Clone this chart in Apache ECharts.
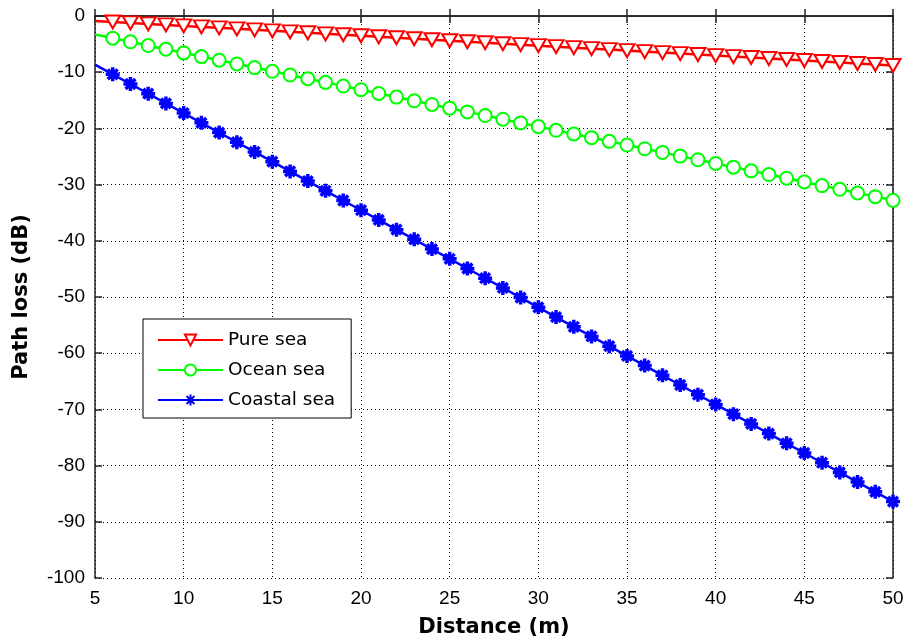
<!DOCTYPE html>
<html>
<head>
<meta charset="utf-8">
<script src="https://cdn.jsdelivr.net/npm/echarts@6/dist/echarts.min.js"></script>
<style>html,body{margin:0;padding:0;background:#fff;}#c{width:909px;height:644px;}</style>
</head>
<body>
<div id="c"></div>
<script>
const distance = [5,6,7,8,9,10,11,12,13,14,15,16,17,18,19,20,21,22,23,24,25,26,27,28,29,30,31,32,33,34,35,36,37,38,39,40,41,42,43,44,45,46,47,48,49,50];
const pureSea = [-0.88,-1.06,-1.23,-1.41,-1.58,-1.76,-1.94,-2.11,-2.29,-2.46,-2.64,-2.82,-2.99,-3.17,-3.34,-3.52,-3.70,-3.87,-4.05,-4.22,-4.40,-4.58,-4.75,-4.93,-5.10,-5.28,-5.46,-5.63,-5.81,-5.98,-6.16,-6.34,-6.51,-6.69,-6.86,-7.04,-7.22,-7.39,-7.57,-7.74,-7.92,-8.10,-8.27,-8.45,-8.62,-8.80];
const oceanSea = [-3.28,-3.94,-4.59,-5.25,-5.90,-6.56,-7.22,-7.87,-8.53,-9.18,-9.84,-10.50,-11.15,-11.81,-12.46,-13.12,-13.78,-14.43,-15.09,-15.74,-16.40,-17.06,-17.71,-18.37,-19.02,-19.68,-20.34,-20.99,-21.65,-22.30,-22.96,-23.62,-24.27,-24.93,-25.58,-26.24,-26.90,-27.55,-28.21,-28.86,-29.52,-30.18,-30.83,-31.49,-32.14,-32.80];
const coastalSea = [-8.64,-10.37,-12.10,-13.82,-15.55,-17.28,-19.01,-20.74,-22.46,-24.19,-25.92,-27.65,-29.38,-31.10,-32.83,-34.56,-36.29,-38.02,-39.74,-41.47,-43.20,-44.93,-46.66,-48.38,-50.11,-51.84,-53.57,-55.30,-57.02,-58.75,-60.48,-62.21,-63.94,-65.66,-67.39,-69.12,-70.85,-72.58,-74.30,-76.03,-77.76,-79.49,-81.22,-82.94,-84.67,-86.40];
const seriesNames = ['Pure sea','Ocean sea','Coastal sea'];
const xTicks = [5,10,15,20,25,30,35,40,45,50];
const yTicks = [0,-10,-20,-30,-40,-50,-60,-70,-80,-90,-100];

function pts(ys){
  return distance.map((d,i)=> i===0 ? {value:[d,ys[i]], symbol:'none'} : [d,ys[i]]);
}
const asterisk = 'path://M0,-10L0,10M-10,0L10,0M-7,-7L7,7M-7,7L7,-7';
const tickFont = 'Liberation Sans, Arial, sans-serif';
const wideFont = 'DejaVu Sans, sans-serif';
const chart = echarts.init(document.getElementById('c'), null, {renderer:'canvas'});
const axisLine = {show:true, lineStyle:{color:'#222', width:1.5}};
const tick = {show:true, inside:true, length:7, lineStyle:{color:'#222', width:1.5}};
chart.setOption({
  animation:false,
  backgroundColor:'#fff',
  grid:{left:95, right:16, top:16, bottom:66, containLabel:false},
  legend:{
    orient:'vertical', left:143, top:319,
    backgroundColor:'#fff', borderColor:'#000', borderWidth:1, borderRadius:0,
    padding:[11,16,8,14], itemGap:10, itemWidth:65, itemHeight:14,
    textStyle:{fontFamily:wideFont, fontSize:18.5, color:'#000', lineHeight:20},
    data:seriesNames
  },
  xAxis:[{
    type:'value', min:5, max:50, interval:5, position:'bottom',
    name:'Distance (m)', nameLocation:'middle', nameGap:39,
    nameTextStyle:{fontFamily:wideFont, fontSize:21, fontWeight:'bold', color:'#000'},
    axisLine:axisLine, axisTick:tick,
    axisLabel:{fontFamily:tickFont, fontSize:19, color:'#000', margin:11},
    splitLine:{show:true, lineStyle:{color:'#000', type:[1,3], width:1}}
  },{
    type:'value', min:5, max:50, interval:5, position:'top',
    axisLine:axisLine, axisTick:tick,
    axisLabel:{show:false}, splitLine:{show:false}
  }],
  yAxis:[{
    type:'value', min:-100, max:0, interval:10, position:'left',
    name:'Path loss (dB)', nameLocation:'middle', nameGap:63, nameRotate:90,
    nameTextStyle:{fontFamily:wideFont, fontSize:21, fontWeight:'bold', color:'#000'},
    axisLine:axisLine, axisTick:tick,
    axisLabel:{fontFamily:tickFont, fontSize:19, color:'#000', margin:10},
    splitLine:{show:true, lineStyle:{color:'#000', type:[1,3], width:1}}
  },{
    type:'value', min:-100, max:0, interval:10, position:'right',
    axisLine:axisLine, axisTick:tick,
    axisLabel:{show:false}, splitLine:{show:false}
  }],
  series:[
    {name:seriesNames[0], type:'line', data:pts(pureSea), symbol:'emptyTriangle', symbolSize:[15,13], symbolRotate:180,
     showAllSymbol:true, color:'#ff0000', lineStyle:{color:'#ff0000', width:2.5}, itemStyle:{color:'#ff0000', borderColor:'#ff0000', borderWidth:3}, z:5},
    {name:seriesNames[1], type:'line', data:pts(oceanSea), symbol:'emptyCircle', symbolSize:13,
     showAllSymbol:true, color:'#00ff00', lineStyle:{color:'#00ff00', width:2.5}, itemStyle:{color:'#00ff00', borderColor:'#00ff00', borderWidth:2.5}, z:4},
    {name:seriesNames[2], type:'line', data:pts(coastalSea), symbol:asterisk, symbolSize:14,
     showAllSymbol:true, color:'#0000ff', lineStyle:{color:'#0000ff', width:2.5}, itemStyle:{color:'#0000ff', borderColor:'#0000ff', borderWidth:3.5}, z:3}
  ]
});
</script>
</body>
</html>
